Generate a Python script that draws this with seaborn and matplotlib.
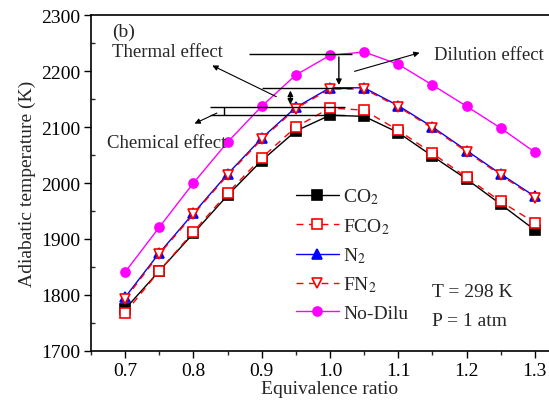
import matplotlib
matplotlib.use("Agg")
import matplotlib.pyplot as plt
import seaborn as sns
import pandas as pd

phi = [0.70, 0.75, 0.80, 0.85, 0.90, 0.95, 1.00, 1.05, 1.10, 1.15, 1.20, 1.25, 1.30]
co2 = [1775, 1843, 1910, 1978, 2040, 2093, 2121, 2119, 2090, 2048, 2007, 1962, 1916]
fco2 = [1768, 1843, 1913, 1982, 2045, 2100, 2134, 2130, 2094, 2053, 2010, 1967, 1929]
n2 = [1796, 1875, 1946, 2016, 2080, 2135, 2170, 2170, 2138, 2100, 2058, 2016, 1976]
fn2 = [1793, 1873, 1944, 2014, 2078, 2133, 2168, 2168, 2136, 2098, 2056, 2014, 1974]
nodilu = [1841, 1921, 2000, 2073, 2137, 2193, 2228, 2234, 2212, 2175, 2137, 2098, 2055]

labels = ["CO$_2$", "FCO$_2$", "N$_2$", "FN$_2$", "No-Dilu"]
xticks = [0.7, 0.8, 0.9, 1.0, 1.1, 1.2, 1.3]
xticklabels = ["0.7", "0.8", "0.9", "1.0", "1.1", "1.2", "1.3"]
yticks = [1700, 1800, 1900, 2000, 2100, 2200, 2300]

sns.set_style("ticks")
plt.rcParams["font.family"] = ["Liberation Serif", "DejaVu Serif"]
plt.rcParams["mathtext.fontset"] = "stix"
plt.rcParams["font.size"] = 14

fig = plt.figure(figsize=(5.49, 4.14), dpi=100)
ax = fig.add_axes([91/549, 62/414, 478/549, 336/414])

series = [
    ("No-Dilu", nodilu, dict(color="#ff00ff", marker="o", linestyle="-", mfc="#ff00ff", mec="#ff00ff")),
    ("N$_2$", n2, dict(color="#0000ff", marker="^", linestyle="-", mfc="#0000ff", mec="#0000ff")),
    ("CO$_2$", co2, dict(color="black", marker="s", linestyle="-", mfc="black", mec="black")),
    ("FN$_2$", fn2, dict(color="red", marker="v", linestyle=(0, (5, 4)), mfc="white", mec="red")),
    ("FCO$_2$", fco2, dict(color="red", marker="s", linestyle=(0, (5, 4)), mfc="white", mec="red")),
]
handles = {}
for name, vals, st in series:
    df = pd.DataFrame({"phi": phi, "T": vals})
    sns.lineplot(data=df, x="phi", y="T", ax=ax, color=st["color"], linestyle=st["linestyle"],
                 marker=st["marker"], markerfacecolor=st["mfc"], markeredgecolor=st["mec"],
                 markersize=6.5, markeredgewidth=1.2, linewidth=1.0, label=name)
    handles[name] = ax.get_lines()[-1]

ax.legend([handles[l] for l in labels], labels, loc="upper left", bbox_to_anchor=(0.40, 0.53),
          frameon=False, fontsize=14, handlelength=2.2, labelspacing=0.5, handletextpad=0.25,
          borderpad=0.2)

ax.set_xlim(0.65, 1.35)
ax.set_ylim(1700, 2300)
ax.set_xticks(xticks)
ax.set_xticks([0.65, 0.75, 0.85, 0.95, 1.05, 1.15, 1.25, 1.35], minor=True)
ax.set_yticks(yticks)
ax.set_yticks([1750, 1850, 1950, 2050, 2150, 2250], minor=True)
ax.set_xticklabels(xticklabels)
ax.tick_params(which="major", direction="out", length=5, width=1, labelsize=14, colors="black", pad=3)
ax.tick_params(axis="x", which="minor", direction="out", length=3, width=1)
ax.tick_params(axis="y", which="minor", direction="in", length=3, width=1)
for s in ax.spines.values():
    s.set_linewidth(1.2)
    s.set_color("black")
ax.set_xlabel("Equivalence ratio", fontsize=14, labelpad=1)
ax.set_ylabel("Adiabatic temperature (K)", fontsize=14, labelpad=3)

ax.text(0.681, 2271, "(b)", fontsize=14, va="center")

# annotations
ax.hlines(2230, 0.882, 1.032, color="black", lw=1)
ax.hlines(2170, 0.900, 1.032, color="black", lw=1)
ax.hlines([2135, 2122], 0.824, 1.022, color="black", lw=1)
ax.annotate("", xy=(1.013, 2170), xytext=(1.013, 2230),
            arrowprops=dict(arrowstyle="-|>", color="black", lw=1, mutation_scale=8))
ax.annotate("", xy=(0.942, 2135), xytext=(0.942, 2170),
            arrowprops=dict(arrowstyle="<|-|>", color="black", lw=1, mutation_scale=8))
ax.vlines(0.845, 2122, 2135, color="black", lw=1)
ax.annotate("", xy=(0.824, 2212), xytext=(0.925, 2152),
            arrowprops=dict(arrowstyle="-|>", color="black", lw=0.8, mutation_scale=8))
ax.annotate("", xy=(1.135, 2234), xytext=(1.032, 2198),
            arrowprops=dict(arrowstyle="-|>", color="black", lw=0.8, mutation_scale=8))
ax.annotate("", xy=(0.798, 2104), xytext=(0.838, 2127),
            arrowprops=dict(arrowstyle="-|>", color="black", lw=0.8, mutation_scale=8))
ax.text(0.681, 2234, "Thermal effect", fontsize=13.5, va="center")
ax.text(1.152, 2230, "Dilution effect", fontsize=13.5, va="center")
ax.text(0.674, 2073, "Chemical effect", fontsize=13.5, va="center")

ax.text(1.15, 1807, "T = 298 K", fontsize=14, va="center")
ax.text(1.15, 1754, "P = 1 atm", fontsize=14, va="center")

fig.savefig("out.png", dpi=100)
